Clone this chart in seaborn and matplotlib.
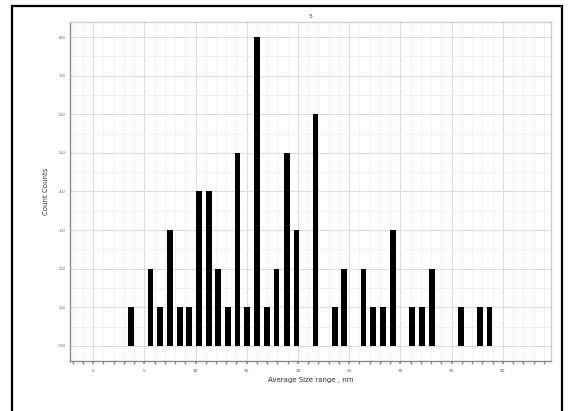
import matplotlib
matplotlib.use("Agg")
import matplotlib.pyplot as plt
from matplotlib.patches import Rectangle
from matplotlib.ticker import MultipleLocator
import numpy as np
import seaborn as sns

# ------------------------------
# Podaci (ocitano sa slike)
# ------------------------------
size_nm = [3.7, 5.6, 6.55, 7.5, 8.45, 9.4, 10.35, 11.3, 12.2, 13.2,
           14.1, 15.05, 16.0, 16.95, 17.9, 18.9, 19.85, 21.7, 23.6, 24.5,
           26.4, 27.35, 28.3, 29.25, 31.1, 32.1, 33.05, 35.9, 37.8, 38.7]
counts = [1, 2, 1, 3, 1, 1, 4, 4, 2, 1,
          5, 1, 8, 1, 2, 5, 3, 6, 1, 2,
          2, 1, 1, 3, 1, 1, 2, 1, 1, 1]
x_ticks = [0, 5, 10, 15, 20, 25, 30, 35, 40]
y_ticks = [0, 1, 2, 3, 4, 5, 6, 7, 8]

sns.set_theme(style="whitegrid")
plt.rcParams['font.family'] = ['DejaVu Sans']

fig = plt.figure(figsize=(5.73, 4.11), dpi=100)
ax = fig.add_axes([0.1222, 0.1217, 0.8394, 0.8248])

# sirina stubica relativno na najmanji razmak
min_gap = np.min(np.diff(size_nm))
sns.barplot(x=size_nm, y=counts, native_scale=True, width=0.56 / min_gap,
            color="black", edgecolor="black", linewidth=0, errorbar=None,
            saturation=1, ax=ax)

ax.set_xlim(-2.25, 44.7)
ax.set_ylim(-0.39, 8.39)
ax.set_xticks(x_ticks)
ax.set_xticklabels([str(t) for t in x_ticks])
ax.set_yticks(y_ticks)
ax.set_yticklabels([f"{t:.1f}" for t in y_ticks])
ax.xaxis.set_minor_locator(MultipleLocator(1))
ax.yaxis.set_minor_locator(MultipleLocator(0.5))

ax.grid(True, which="major", color="#dcdcdc", linewidth=0.8)
ax.grid(True, which="minor", color="#efefef", linewidth=0.6)
ax.set_axisbelow(True)
ax.set_facecolor("white")

for side in ["top", "right"]:
    ax.spines[side].set_color("#cfcfcf")
    ax.spines[side].set_linewidth(1.0)
for side in ["left", "bottom"]:
    ax.spines[side].set_color("#8a8a8a")
    ax.spines[side].set_linewidth(1.0)

ax.tick_params(axis="both", which="major", labelsize=3.2, colors="#555555",
               length=0, pad=3)
ax.tick_params(axis="x", which="minor", bottom=True, length=2, color="#8a8a8a")
ax.tick_params(axis="x", which="major", bottom=True, length=2.5, color="#8a8a8a")

ax.set_xlabel("Average Size range , nm", fontsize=5, color="#333333", labelpad=3)
ax.set_ylabel("Count Counts", fontsize=5, color="#333333", labelpad=7)
ax.set_title("5", fontsize=4.5, color="#444444", pad=3)

# okvir oko cele slike
fig.patches.append(Rectangle((12 / 573, -0.05), 550 / 573, 1 - 6 / 411 + 0.05,
                             transform=fig.transFigure, fill=False,
                             edgecolor="black", linewidth=1.6))

fig.savefig("out.png", dpi=100, facecolor="white")
